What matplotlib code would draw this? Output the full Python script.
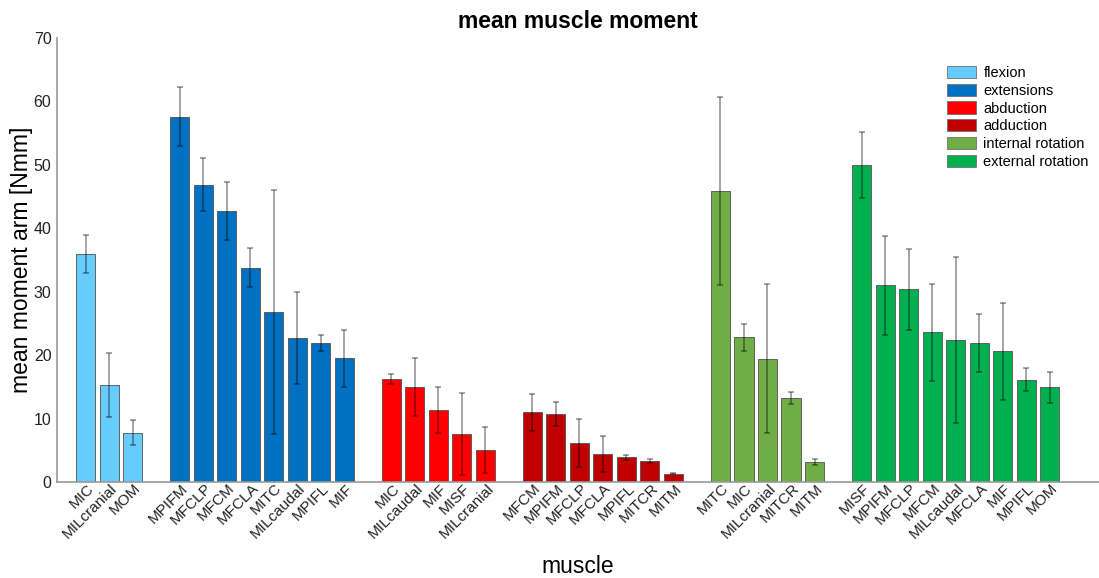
import numpy as np
import matplotlib.pyplot as plt
import matplotlib.transforms as mtransforms
from matplotlib.patches import Patch

plt.rcParams['font.family'] = ['Liberation Sans', 'DejaVu Sans']

# muscle groups, in drawing order
groups = ['flexion', 'extensions', 'abduction', 'adduction',
          'internal rotation', 'external rotation']
colors = ['#66CCFF', '#0070C0', '#FF0000', '#C00000', '#70AD47', '#00B050']

flexion_names = ['MIC', 'MILcranial', 'MOM']
flexion_mean = [36.0, 15.3, 7.8]
flexion_err = [3.0, 5.1, 1.9]

extension_names = ['MPIFM', 'MFCLP', 'MFCM', 'MFCLA', 'MITC', 'MILcaudal', 'MPIFL', 'MIF']
extension_mean = [57.6, 46.9, 42.7, 33.8, 26.8, 22.7, 21.9, 19.5]
extension_err = [4.6, 4.2, 4.6, 3.1, 19.2, 7.2, 1.2, 4.5]

abduction_names = ['MIC', 'MILcaudal', 'MIF', 'MISF', 'MILcranial']
abduction_mean = [16.3, 15.0, 11.3, 7.6, 5.0]
abduction_err = [0.8, 4.6, 3.6, 6.5, 3.6]

adduction_names = ['MFCM', 'MPIFM', 'MFCLP', 'MFCLA', 'MPIFL', 'MITCR', 'MITM']
adduction_mean = [11.0, 10.7, 6.1, 4.4, 3.9, 3.3, 1.3]
adduction_err = [2.9, 1.85, 3.8, 2.8, 0.4, 0.3, 0.1]

internal_names = ['MITC', 'MIC', 'MILcranial', 'MITCR', 'MITM']
internal_mean = [45.9, 22.8, 19.45, 13.2, 3.2]
internal_err = [14.8, 2.1, 11.8, 0.95, 0.45]

external_names = ['MISF', 'MPIFM', 'MFCLP', 'MFCM', 'MILcaudal', 'MFCLA', 'MIF', 'MPIFL', 'MOM']
external_mean = [50.0, 31.0, 30.4, 23.6, 22.45, 21.9, 20.6, 16.1, 14.9]
external_err = [5.2, 7.85, 6.4, 7.6, 13.1, 4.6, 7.6, 1.8, 2.5]

all_names = [flexion_names, extension_names, abduction_names,
             adduction_names, internal_names, external_names]
all_means = [flexion_mean, extension_mean, abduction_mean,
             adduction_mean, internal_mean, external_mean]
all_errs = [flexion_err, extension_err, abduction_err,
            adduction_err, internal_err, external_err]

fig = plt.figure(figsize=(10.99, 5.78), dpi=100)
ax = fig.add_axes([57 / 1099, 1 - 482 / 578, 1 - 57 / 1099, (482 - 38) / 578])

ticks = []
labels = []
pos = 0
for names, means, errs, col in zip(all_names, all_means, all_errs, colors):
    x = np.arange(pos, pos + len(names))
    ax.bar(x, means, width=0.81, color=col, edgecolor='#505050', linewidth=0.6)
    ax.errorbar(x, means, yerr=errs, fmt='none', ecolor=(0, 0, 0, 0.45),
                elinewidth=1.1, capsize=2.5, capthick=1.1)
    ticks.extend(x)
    labels.extend(names)
    pos += len(names) + 1

ax.set_xlim(-1.22, 43.1)
ax.set_ylim(0, 70)
ax.set_yticks(np.arange(0, 71, 10))
ax.set_xticks(ticks)
ax.set_xticklabels(labels, rotation=45, ha='right', va='center',
                   rotation_mode='anchor', fontsize=11, color='#222222')
ax.tick_params(axis='x', length=0, pad=3)
ax.tick_params(axis='y', length=0, pad=4, labelsize=11.5, labelcolor='#222222')

# nudge rotated labels to the right a bit
shift = mtransforms.ScaledTranslation(6 / 100, 0, fig.dpi_scale_trans)
for lab in ax.get_xticklabels():
    lab.set_transform(lab.get_transform() + shift)

for s in ['top', 'right']:
    ax.spines[s].set_visible(False)
for s in ['left', 'bottom']:
    ax.spines[s].set_color('#999999')
    ax.spines[s].set_linewidth(1.2)

ax.set_title('mean muscle moment', fontsize=16.5, fontweight='bold', pad=7)
ax.set_ylabel('mean moment arm [Nmm]', fontsize=16.5)
ax.yaxis.set_label_coords(-24 / 1042, 0.5)
ax.set_xlabel('muscle', fontsize=16.5, labelpad=10)

handles = [Patch(facecolor=c, edgecolor='#707070', linewidth=0.6) for c in colors]
ax.legend(handles, groups, loc='upper right', bbox_to_anchor=(1.0, 0.96),
          frameon=False, fontsize=10.5, handlelength=2.0, handleheight=0.9,
          handletextpad=0.5, labelspacing=0.25, borderaxespad=0.3)

fig.savefig('out.png', dpi=100)
